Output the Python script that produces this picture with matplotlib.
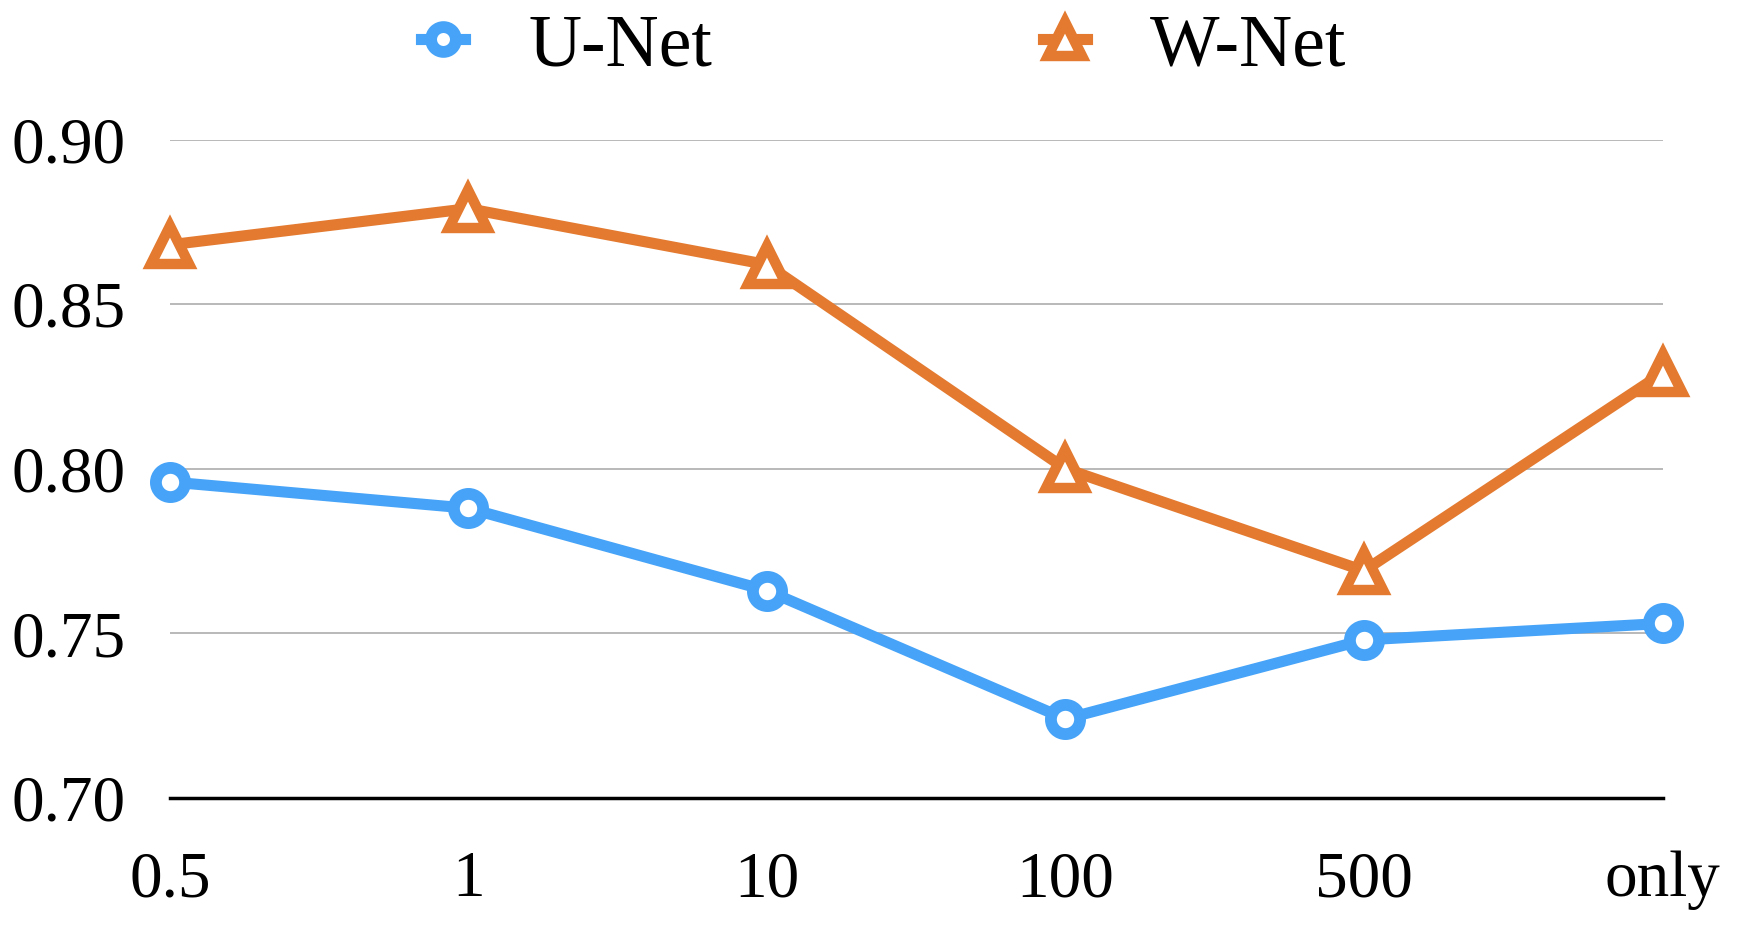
import numpy as np
import matplotlib.pyplot as plt

plt.rcParams['font.family'] = ['Liberation Serif', 'DejaVu Serif']

labels = ["0.5", "1", "10", "100", "500", "only"]
unet = [0.796, 0.788, 0.763, 0.724, 0.748, 0.753]
wnet = [0.868, 0.879, 0.862, 0.800, 0.769, 0.829]

blue = "#46a3f7"
orange = "#e37a30"

fig = plt.figure(figsize=(17.5, 9.3), dpi=100)
ax = fig.add_axes([0.097, 0.142, 0.853, 0.708])

x = np.arange(len(labels))
ax.plot(x, unet, color=blue, lw=8, marker='o', ms=21, mew=8.5,
        mfc='white', mec=blue, label='U-Net', clip_on=False, zorder=3)
ax.plot(x, wnet, color=orange, lw=8, marker='^', ms=28, mew=7.5,
        mfc='white', mec=orange, label='W-Net', clip_on=False, zorder=4)

ax.set_xlim(0, len(labels) - 1)
ax.set_ylim(0.70, 0.90)
ax.set_yticks([0.70, 0.75, 0.80, 0.85, 0.90])
ax.set_yticklabels(["0.70", "0.75", "0.80", "0.85", "0.90"])
ax.set_xticks(x)
ax.set_xticklabels(labels)
ax.tick_params(axis='y', length=0, pad=32, labelsize=47)
ax.tick_params(axis='x', length=0, pad=38, labelsize=47)

ax.grid(axis='y', color='#b3b3b3', lw=1.3)
ax.set_axisbelow(True)
for s in ['top', 'right', 'left']:
    ax.spines[s].set_visible(False)
ax.spines['bottom'].set_linewidth(2.5)
ax.spines['bottom'].set_zorder(2)

fig.legend(loc='center', bbox_to_anchor=(0.505, 0.949), ncol=2,
           frameon=False, fontsize=53, handlelength=0.6, handletextpad=0.85,
           columnspacing=4.5, markerscale=0.85)

fig.savefig("out.png", dpi=100)
